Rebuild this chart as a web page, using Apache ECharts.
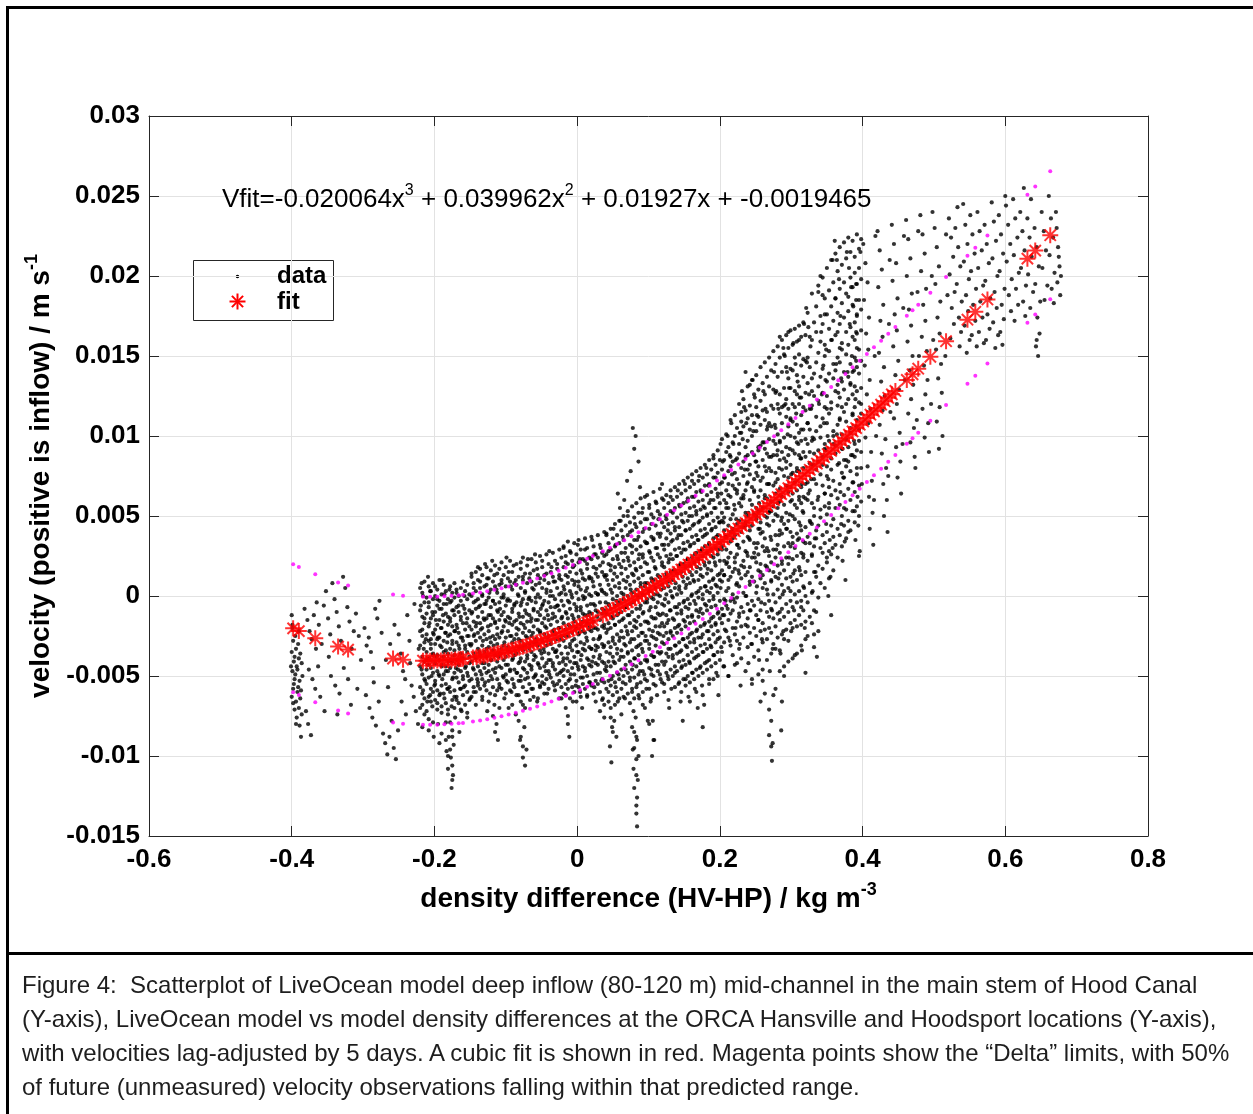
<!DOCTYPE html>
<html>
<head>
<meta charset="utf-8">
<script src="https://cdn.jsdelivr.net/npm/echarts@6/dist/echarts.min.js"></script>
<style>
  html, body { margin:0; padding:0; background:#fff; }
  #wrap { position:relative; width:1253px; height:1114px; overflow:hidden; background:#fff; }
  #chart { position:absolute; left:0; top:0; width:1253px; height:1114px; }
  .bar { position:absolute; background:#000; }
  .lg { position:absolute; left:277px; font-family:'Liberation Sans', Arial, sans-serif; font-weight:bold; font-size:24px; line-height:28px; color:#000; }
  #caption { position:absolute; left:22px; top:968px; width:1230px; white-space:nowrap; font-family:'Liberation Sans', Arial, sans-serif; font-size:24px; line-height:34px; color:#1e1e1e; }
</style>
</head>
<body>
<div id="wrap">
  <div id="chart"></div>
  <div class="lg" style="top:261px;">data</div>
  <div class="lg" style="top:287px;">fit</div>
  <div class="bar" style="left:6px; top:6px; width:1247px; height:3px;"></div>
  <div class="bar" style="left:6px; top:6px; width:3px; height:1108px;"></div>
  <div class="bar" style="left:6px; top:952px; width:1247px; height:3px;"></div>
  <div id="caption">Figure 4:&nbsp; Scatterplot of LiveOcean model deep inflow (80-120 m) mid-channel in the main stem of Hood Canal<br>(Y-axis), LiveOcean model vs model density differences at the ORCA Hansville and Hoodsport locations (Y-axis),<br>with velocities lag-adjusted by 5 days. A cubic fit is shown in red. Magenta points show the “Delta” limits, with 50%<br>of future (unmeasured) velocity observations falling within that predicted range.</div>
</div>
<script>
// ---- tick labels ----
const xTicks = ['-0.6','-0.4','-0.2','0','0.2','0.4','0.6','0.8'];
const yTicks = ['-0.015','-0.01','-0.005','0','0.005','0.01','0.015','0.02','0.025','0.03'];

const dataA = [[-400,-12],[-399,-20],[-398,-28],[-400,-35],[-397,-41],[-399,-47],[-396,-52],[-398,-58],[-400,-63],[-395,-25],[-394,-33],[-396,-38],[-393,-44],[-395,-49],[-397,-55],[-392,-60],[-394,-66],[-396,-71],[-391,-30],[-390,-39],[-392,-46],[-389,-53],[-391,-57],[-388,-64],[-390,-70],[-393,-76],[-389,-81],[-387,-88],[-386,-42],[-388,-36],[-385,-50],[-387,-59],[-399,-18],[-401,-44],[-398,-67],[-394,-80],[-386,-74],[-390,-22]];
const dataB = [[-382,-8],[-378,-15],[-375,-22],[-372,-27],[-369,-12],[-365,-4],[-362,-18],[-376,-46],[-371,-52],[-367,-58],[-363,-44],[-360,-63],[-380,-72],[-377,-80],[-373,-87],[-358,-30],[-355,-6],[-352,3],[-349,-14],[-346,-24],[-343,8],[-340,-2],[-337,-10],[-334,-19],[-331,-28],[-328,12],[-325,5],[-322,-7],[-319,-16],[-316,-33],[-313,-22],[-345,-50],[-339,-56],[-333,-61],[-327,-45],[-321,-52],[-317,-68],[-310,-11],[-306,-25],[-303,-40],[-308,-58],[-354,-72],[-348,-38],[-336,-74],[-366,-33]];
const dataC = [[-298,-20],[-295,-31],[-292,-26],[-289,-35],[-286,-45],[-283,-8],[-280,-14],[-277,-3],[-274,-23],[-296,-62],[-291,-70],[-287,-76],[-282,-81],[-278,-66],[-272,-86],[-269,-92],[-266,-99],[-263,-88],[-260,-78],[-257,-95],[-254,-102],[-251,-84],[-268,-40],[-262,-30],[-256,-18],[-250,-24],[-247,-36],[-244,-47],[-241,-52],[-238,-12],[-235,-28],[-232,-56],[-229,-63],[-226,-72],[-223,-80],[-246,-66],[-240,-74],[-234,-42],[-228,-5],[-222,-33],[-265,-57],[-285,-54]];
const dataD = [[-218,8],[-216,0],[-219,-6],[-214,-14],[-217,-21],[-212,-27],[-215,-33],[-211,-40],[-218,-46],[-213,-53],[-216,-59],[-210,-66],[-214,-74],[-217,-82],
 [-209,12],[-206,3],[-208,-4],[-203,-10],[-207,-17],[-201,-24],[-205,-30],[-202,-37],[-209,-43],[-204,-50],[-200,-56],[-206,-62],[-203,-69],[-208,-77],[-201,-88],
 [-199,6],[-196,-2],[-193,-8],[-198,-15],[-191,-20],[-195,-26],[-192,-31],[-197,-38],[-190,-44],[-194,-49],[-199,-55],[-192,-61],[-196,-67],[-190,-73],[-195,-80],[-193,-92],
 [-189,10],[-186,1],[-183,-5],[-188,-12],[-181,-18],[-185,-23],[-182,-29],[-187,-35],[-180,-41],[-184,-47],[-189,-52],[-182,-58],[-186,-64],[-181,-71],[-184,-79],[-180,-88],[-183,-97],[-181,-108],
 [-179,4],[-176,-3],[-173,-9],[-178,-16],[-171,-22],[-175,-28],[-172,-34],[-177,-40],[-170,-45],[-174,-51],[-179,-57],[-172,-63],[-176,-69],[-171,-76],[-175,-84],[-173,-93],[-177,-101],[-174,-112],[-176,-120],
 [-169,2],[-166,-6],[-163,-13],[-168,-20],[-161,-26],[-165,-33],[-162,-39],[-167,-46],[-160,-52],[-164,-58],[-169,-65],[-162,-72],[-158,-8],[-155,-17],[-152,-25],[-157,-31],[-151,-38],[-156,-44],[-153,-50],[-159,-57],[-150,-64],[-154,-76],[-158,0],[-165,-85]];
const dataE = [[-148,14],[-145,5],[-142,-3],[-147,-10],[-141,-17],[-144,-24],[-149,-31],[-143,-38],[-146,-45],[-140,-52],[-145,-60],[-142,-68],
 [-139,18],[-136,9],[-133,0],[-138,-7],[-131,-14],[-135,-21],[-132,-28],[-137,-35],[-130,-42],[-134,-49],[-139,-56],[-133,-63],
 [-129,20],[-126,11],[-123,2],[-128,-5],[-121,-12],[-125,-19],[-122,-26],[-127,-33],[-120,-40],[-124,-47],[-129,-54],[-122,-61],[-126,-72],
 [-119,22],[-116,13],[-113,4],[-118,-3],[-111,-10],[-115,-17],[-112,-24],[-117,-31],[-110,-38],[-114,-45],[-119,-52],[-112,-59],[-116,-68],[-113,-80],[-111,-90],
 [-109,17],[-106,8],[-103,-1],[-108,-8],[-101,-15],[-105,-22],[-102,-29],[-107,-36],[-100,-43],[-104,-50],[-109,-57],[-102,-64],
 [-99,24],[-96,15],[-93,6],[-98,-3],[-91,-10],[-95,-17],[-92,-25],[-97,-32],[-90,-39],[-94,-46],[-99,-53],[-92,-60],[-96,-70],
 [-89,19],[-86,10],[-83,1],[-88,-6],[-81,-13],[-85,-20],[-82,-27],[-87,-34],[-80,-41],[-84,-48],[-89,-55],[-82,-62],[-86,-74],[-80,-90],
 [-79,21],[-76,12],[-73,3],[-78,-4],[-71,-11],[-75,-18],[-72,-25],[-77,-32],[-70,-39],[-74,-46],[-79,-53],[-72,-60],[-76,-68],[-74,-82],[-71,-96],[-73,-106],
 [-69,23],[-66,14],[-63,5],[-68,-2],[-61,-9],[-65,-16],[-62,-23],[-67,-30],[-60,-37],[-64,-44],[-69,-51],[-62,-58],[-66,-65],
 [-59,26],[-56,17],[-53,8],[-58,-1],[-51,-8],[-55,-15],[-52,-22],[-57,-29],[-50,-36],[-54,-43],[-59,-50],[-52,-57],[-56,-66],
 [-49,22],[-46,13],[-43,4],[-48,-5],[-41,-12],[-45,-19],[-42,-26],[-47,-33],[-40,-40],[-44,-47],[-49,-54],[-42,-61],
 [-39,28],[-36,18],[-33,9],[-38,0],[-31,-7],[-35,-14],[-32,-21],[-37,-28],[-30,-35],[-34,-42],[-39,-49],[-32,-56],[-28,20],[-25,11],[-22,2],[-27,-6],[-21,-13],[-26,-20],[-23,-27],[-29,-34],[-20,-41],[-24,-48],[-28,-55],[-22,-64]];
const dataF = [[-19,30],[-16,21],[-13,12],[-18,4],[-11,-4],[-15,-11],[-12,-18],[-17,-25],[-10,-32],[-14,-39],[-19,-46],[-12,-53],[-16,-62],[-13,-75],[-11,-88],
 [-9,27],[-6,18],[-3,9],[-8,1],[-1,-7],[-5,-14],[-2,-21],[-7,-28],[0,-35],[-4,-42],[-9,-49],[-2,-56],[-6,-66],
 [1,32],[4,23],[7,14],[2,6],[9,-2],[5,-9],[8,-16],[3,-23],[10,-30],[6,-37],[1,-44],[8,-51],[4,-60],[7,-70],
 [11,29],[14,20],[17,11],[12,3],[19,-5],[15,-12],[18,-19],[13,-26],[20,-33],[16,-40],[11,-47],[18,-54],[14,-63],
 [21,35],[24,26],[27,17],[22,9],[29,1],[25,-6],[28,-13],[23,-20],[30,-27],[26,-34],[21,-41],[28,-48],[24,-57],[33,30],[36,21],[39,12],[34,4],[40,-4],[35,-11],[38,-18],[32,-25],[37,-32],[31,-39],[39,-46],[34,-53],[36,-64],[38,-76]];
const dataG = [[41,38],[44,28],[47,19],[42,10],[49,2],[45,-6],[48,-13],[43,-21],[50,-28],[46,-36],[41,-44],[48,-52],[44,-60],[47,-70],[49,-82],[46,-94],[48,-104],
 [51,42],[54,32],[57,23],[52,14],[59,5],[55,-3],[58,-11],[53,-18],[60,-26],[56,-33],[51,-41],[58,-49],[54,-57],[57,-66],[52,-78],[55,-88],[60,55],[57,64],
 [61,47],[64,37],[67,27],[62,18],[69,9],[65,1],[68,-7],[63,-15],[70,-22],[66,-30],[61,-38],[68,-46],[64,-54],[67,-64],[62,-74],[70,72],[66,60],
 [71,50],[74,40],[77,31],[72,22],[79,13],[75,4],[78,-4],[73,-12],[80,-19],[76,-27],[71,-35],[78,-43],[74,-51],[77,-60],[79,-72],[80,-85],[78,-96],[79,-108],[75,78],[80,92],[78,105],
 [81,45],[84,35],[87,26],[82,17],[89,8],[85,0],[88,-8],[83,-16],[90,-23],[86,-31],[81,-39],[88,-47],[84,-55],[87,-64],[82,-76],[84,-90],[83,-102],[85,-115],[84,-126],[83,-136],[84,-144],[82,100],[86,84],[88,68],
 [91,52],[94,42],[97,33],[92,24],[99,15],[95,6],[98,-2],[93,-10],[100,-17],[96,-25],[91,-33],[98,-41],[94,-49],[97,-58],[92,-68],[99,-78],[95,62],
 [101,55],[104,45],[107,36],[102,27],[109,18],[105,9],[108,1],[103,-7],[110,-14],[106,-22],[101,-30],[108,-38],[104,-46],[107,-55],[103,-66],[106,-78],[108,-90],[105,-100],[111,58],[114,48],[117,39],[112,30],[119,21],[115,12],[118,4],[113,-4],[120,-11],[116,-19],[111,-27],[118,-35],[114,-43],[117,-52],[112,-62],[119,70]];
const dataH = [[121,60],[124,50],[127,41],[122,32],[129,23],[125,14],[128,6],[123,-2],[130,-9],[126,-17],[121,-25],[128,-33],[124,-41],[127,-50],[122,-60],[129,-70],
 [131,62],[134,52],[137,43],[132,34],[139,25],[135,16],[138,8],[133,0],[140,-7],[136,-15],[131,-23],[138,-31],[134,-39],[137,-48],[132,-58],
 [141,66],[144,56],[147,47],[142,38],[149,29],[145,20],[148,12],[143,4],[150,-3],[146,-11],[141,-19],[148,-27],[144,-35],[147,-44],[142,-55],[145,-66],[148,-78],
 [151,70],[154,59],[157,50],[152,41],[159,32],[155,23],[158,15],[153,7],[160,0],[156,-8],[151,-16],[158,-24],[154,-32],[157,-41],[152,-52],[156,-63],
 [161,72],[164,62],[167,53],[162,44],[169,35],[165,26],[168,18],[163,10],[170,3],[166,-5],[161,-13],[168,-21],[164,-29],[167,-38],[162,-48],[165,-58],[169,-70],
 [171,75],[174,65],[177,56],[172,47],[179,38],[175,29],[178,21],[173,13],[180,6],[176,-2],[171,-10],[178,-18],[174,-26],[177,-35],[172,-45],[175,-56],[178,-68],[176,-82],
 [181,80],[184,69],[187,60],[182,51],[189,42],[185,33],[188,25],[183,17],[190,10],[186,2],[181,-6],[188,-14],[184,-22],[187,-31],[182,-41],[185,-52],[191,86],[194,74],[197,64],[192,55],[199,46],[195,37],[198,29],[193,21],[200,14],[196,6],[191,-2],[198,-10],[194,-18],[197,-27],[192,-37],[195,-48],[198,-62]];
const dataI = [[201,95],[204,84],[207,74],[202,64],[209,55],[205,46],[208,37],[203,29],[210,21],[206,13],[201,5],[208,-3],[204,-12],[207,-21],[202,-32],[205,-44],[211,100],[214,88],[212,70],[215,40],[213,18],[211,-8],[214,-28],[212,-50],
 [216,108],[219,95],[222,85],[217,76],[224,66],[220,57],[223,48],[218,40],[225,32],[221,24],[226,16],[223,7],[219,-2],[227,-11],[222,-20],[228,-30],[224,-42],[229,-56],[230,115],[228,102],
 [231,128],[234,118],[237,108],[232,98],[239,88],[235,79],[238,70],[233,61],[240,52],[236,44],[241,36],[238,27],[234,18],[242,9],[237,0],[243,-9],[239,-19],[244,-30],[240,-42],[245,-55],[236,140],[242,132],
 [246,135],[249,124],[252,113],[247,103],[254,93],[250,84],[253,75],[248,66],[255,58],[251,50],[256,42],[253,33],[249,24],[257,15],[252,6],[258,-4],[254,-15],[259,-27],[255,-40],[260,-53],[257,-66],
 [261,128],[264,117],[267,106],[262,96],[269,87],[265,78],[268,70],[263,61],[270,53],[266,45],[271,37],[268,28],[264,19],[272,10],[267,1],[273,-9],[269,-20],[274,-33],[270,-47],[275,-62],[272,-78],[274,-92],[273,-103],
 [276,140],[279,128],[282,117],[277,107],[284,97],[280,88],[283,80],[278,71],[285,63],[281,55],[286,47],[283,38],[279,29],[287,20],[282,11],[288,1],[284,-10],[289,-22],[285,-36],[290,-50],[287,-66],[286,-84],[289,155],[284,162],
 [291,150],[294,140],[297,130],[292,120],[299,110],[295,101],[298,92],[293,84],[300,76],[296,68],[301,60],[298,51],[294,42],[302,33],[297,24],[303,14],[299,3],[304,-9],[300,-22],[305,-37],[296,165],[303,158],[306,145],[309,134],[312,124],[307,114],[314,104],[310,95],[313,86],[308,78],[315,70],[311,62],[316,53],[313,44],[309,35],[317,26],[312,16],[318,5],[314,-7],[319,-20],[315,-34],[320,-48],[318,170],[311,160]];
const dataJ = [[321,180],[324,168],[327,156],[322,146],[329,136],[325,126],[328,117],[323,108],[330,99],[326,90],[331,82],[328,73],[324,64],[332,55],[327,46],[333,36],[329,26],[334,15],[330,3],[335,-10],[332,-24],[336,-38],[338,190],[339,120],[337,60],
 [341,200],[344,188],[347,176],[342,165],[349,154],[345,144],[348,135],[343,126],[350,117],[346,108],[351,100],[348,91],[344,82],[352,73],[347,64],[353,55],[349,45],[354,35],[350,24],[355,12],[352,0],[356,-12],[358,210],[357,160],[359,95],[358,30],
 [361,222],[364,210],[367,198],[362,186],[369,175],[365,165],[368,155],[363,145],[370,136],[366,127],[371,118],[368,110],[364,101],[372,92],[367,83],[373,74],[369,65],[374,55],[370,45],[375,34],[372,22],[376,10],[378,215],[379,140],[377,85],[380,40],
 [381,205],[384,193],[387,181],[382,170],[389,160],[385,150],[388,141],[383,132],[390,123],[386,114],[391,106],[388,97],[384,88],[392,80],[387,71],[393,62],[389,53],[394,44],[390,35],[395,25],[391,195],[391,185],[392,175],[391,165],[392,155],[391,147],[397,215],[398,120],[399,70],[396,28]];
const dataK = [[401,220],[404,208],[407,196],[402,185],[409,174],[405,164],[408,154],[403,144],[410,135],[406,126],[411,117],[408,108],[404,99],[412,90],[407,81],[413,72],[409,62],[414,52],[410,42],[415,32],[418,225],[417,150],[419,100],[416,60],
 [421,228],[424,216],[427,204],[422,193],[429,182],[425,172],[428,162],[423,152],[430,143],[426,134],[431,125],[428,116],[424,107],[432,98],[427,89],[433,80],[429,70],[434,60],[430,50],[435,40],[438,210],[437,170],[439,115],[436,75],
 [441,232],[444,220],[447,208],[442,197],[449,186],[445,176],[448,166],[443,156],[450,147],[446,138],[451,129],[448,120],[444,111],[452,102],[447,93],[453,84],[449,74],[454,64],[458,225],[457,180],[459,135],[456,95],
 [461,235],[464,223],[467,211],[462,200],[469,189],[465,179],[468,169],[463,159],[470,150],[466,141],[471,132],[468,123],[464,114],[472,105],[467,96],[473,87],[478,228],[477,190],[479,150],[476,110],[474,80]];
const dataL = [[481,238],[484,226],[487,214],[482,203],[489,192],[485,182],[488,172],[483,162],[490,153],[486,144],[491,135],[488,126],[484,117],[492,108],[487,99],[493,90],[498,240],[497,200],[499,160],[496,120],
 [501,230],[504,218],[507,206],[502,195],[509,184],[505,174],[508,164],[503,154],[510,145],[506,136],[511,127],[508,118],[504,109],[512,100],[507,92],[517,226],[519,188],[516,150],
 [521,236],[524,224],[527,212],[522,201],[529,190],[525,180],[528,170],[523,161],[530,230],[534,218],[537,206],[532,195],[539,184],[535,174],[538,165],[533,243],[536,156],
 [541,245],[544,232],[547,220],[542,209],[549,198],[545,188],[548,178],[543,169],[550,160],[546,152],[551,238],[554,226],[557,214],[552,203],[559,192],[555,182],[558,172],[553,163],[560,156]];
const dataM = [[561,240],[564,228],[567,216],[562,205],[569,194],[565,184],[568,174],[563,165],[570,158],[571,232],[574,220],[577,208],[572,197],[579,186],[575,176],[578,167],[573,160],[581,246],[584,234],[587,222],[582,211],[589,200],[585,190],[588,180],[583,171],[590,163],[586,155],[591,238],[594,226],[597,214],[592,203],[599,192],[595,182],[598,173],[593,165],[600,250],[596,157]];
const dataN = [[601,244],[604,232],[607,220],[602,209],[609,198],[605,188],[608,178],[611,248],[614,236],[617,224],[612,213],[619,202],[615,192],[618,182],[613,172],[621,240],[624,228],[627,216],[622,205],[629,194],[625,184],[628,175],[631,236],[634,224],[637,212],[632,201],[639,190],[635,180],[641,230],[644,218],[647,206],[642,195],[649,184],[645,174],[648,164],[643,156],[646,150],[644,160],[651,240],[654,228],[657,216],[652,205],[659,194],[655,185],[661,250],[664,236],[667,224],[662,213],[669,202],[665,192],[668,183],[672,230],[674,218],[676,206],[673,196],[677,188],[675,212],[678,200],[671,240],[626,255],[636,248]];

// ---- more observed data in the dense part, as vertical streaks: [x x1000, y1 x10000, y2 x10000, ...] ----
const streaksD = [[-220,5,-9,-22,-31,-44,-57,-70],[-217,2,-13,-25,-38,-49,-61,-68],[-214,9,-4,-17,-29,-41,-52,-64],[-211,-1,-11,-24,-35,-46,-55,-72],[-208,6,-7,-19,-28,-39,-51,-63,-84],[-205,3,-14,-27,-33,-45,-58,-66],[-202,8,-2,-12,-23,-36,-48,-60,-79],[-199,0,-10,-21,-30,-42,-53,-65],[-196,4,-6,-18,-27,-37,-47,-59,-71],[-193,10,-3,-15,-26,-40,-50,-62],[-190,1,-8,-20,-32,-43,-56,-69,-86],[-187,7,-5,-16,-28,-38,-49,-61],[-184,3,-11,-23,-34,-44,-55,-67,-90],[-181,-2,-13,-25,-36,-47,-58,-74,-100],[-178,6,-4,-14,-24,-33,-45,-60,-79,-96],[-175,2,-9,-19,-30,-41,-52,-65,-88,-106,-115],[-172,8,-1,-12,-22,-37,-48,-59,-70],[-169,4,-7,-18,-29,-40,-51,-63],[-166,0,-10,-23,-31,-43,-54,-67],[-163,5,-3,-15,-26,-36,-47,-58,-71],[-160,9,-6,-17,-28,-39,-50,-62],[-157,3,-11,-21,-33,-45,-56,-68],[-154,7,-2,-14,-25,-35,-48,-60,-73],[-151,1,-9,-19,-30,-42,-53,-65]];
const streaksE = [[-148,12,0,-11,-21,-30,-41,-52,-63],[-145,8,-4,-16,-25,-36,-46,-57],[-142,15,3,-8,-19,-28,-39,-49,-60],[-139,10,-2,-13,-23,-33,-44,-54],[-136,17,5,-6,-17,-26,-37,-47,-58],[-133,13,1,-10,-20,-31,-42,-52,-65],[-130,6,-5,-15,-24,-35,-45,-56],[-127,18,7,-3,-14,-27,-38,-48,-59],[-124,11,-1,-12,-22,-32,-43,-53,-66],[-121,16,4,-7,-18,-29,-40,-50],[-118,9,-3,-14,-25,-34,-46,-57,-75],[-115,19,6,-5,-16,-27,-37,-48,-62,-85],[-112,14,2,-9,-20,-30,-41,-52],[-109,7,-4,-15,-26,-36,-44,-55,-70],[-106,21,10,-1,-12,-23,-33,-45,-58],[-103,13,1,-10,-19,-31,-40,-51],[-100,18,6,-6,-16,-26,-38,-49,-61],[-97,11,-2,-13,-22,-34,-43,-54],[-94,22,9,-3,-14,-25,-35,-47,-59],[-91,15,4,-8,-18,-29,-40,-52,-68],[-88,8,-5,-16,-27,-37,-46,-57],[-85,20,7,-4,-15,-24,-36,-48,-62],[-82,12,0,-11,-21,-32,-42,-53,-78],[-79,17,5,-6,-17,-28,-39,-50,-66,-88],[-76,24,10,-2,-13,-23,-34,-45,-57,-94,-101],[-73,14,2,-9,-20,-31,-41,-52,-70],[-70,19,8,-5,-16,-26,-37,-48,-60],[-67,11,-1,-12,-22,-33,-43,-55],[-64,23,9,-3,-14,-25,-35,-46,-58],[-61,16,4,-8,-19,-29,-40,-51,-63],[-58,21,7,-4,-15,-27,-38,-49],[-55,13,1,-10,-21,-31,-42,-53,-64],[-52,25,11,-1,-12,-23,-34,-45,-56],[-49,18,5,-6,-17,-28,-39,-50],[-46,10,-3,-14,-24,-35,-44,-55,-61],[-43,26,14,2,-9,-20,-31,-42,-52],[-40,20,8,-4,-15,-25,-36,-47,-58],[-37,15,3,-7,-18,-30,-40,-51],[-34,27,12,0,-11,-22,-33,-44,-54],[-31,22,9,-2,-13,-24,-35,-46,-59],[-28,17,5,-6,-16,-27,-38,-49],[-25,29,13,1,-9,-20,-31,-42,-53,-64],[-22,24,10,-3,-14,-25,-36,-47,-57]];
const streaksF = [[-19,31,18,6,-6,-17,-28,-39,-50,-61],[-16,25,13,1,-10,-21,-32,-43,-55,-70],[-13,34,20,8,-3,-14,-25,-36,-47,-58,-80],[-10,28,15,3,-8,-19,-30,-41,-52,-64],[-7,22,10,-1,-12,-23,-34,-45,-57],[-4,33,19,7,-5,-16,-27,-38,-49,-60],[-1,26,14,2,-9,-20,-31,-42,-53,-66],[2,35,21,9,-2,-13,-24,-35,-46,-57],[5,29,16,4,-7,-18,-29,-40,-51,-63],[8,23,11,0,-11,-22,-33,-44,-55],[11,36,22,10,-1,-12,-23,-34,-45,-58],[14,30,17,5,-6,-17,-28,-39,-50,-62],[17,24,12,1,-10,-21,-32,-43,-54],[20,37,23,11,0,-11,-22,-33,-44,-56],[23,31,18,6,-5,-16,-27,-38,-49,-61],[26,26,14,2,-9,-20,-31,-42,-53,-66],[29,38,24,12,1,-10,-21,-32,-43,-55],[32,32,19,7,-4,-15,-26,-37,-48,-60,-72],[35,27,15,3,-8,-19,-30,-41,-52,-65],[38,40,25,13,2,-9,-20,-31,-42,-54,-68]];
const streaksG = [[41,39,26,13,1,-11,-23,-35,-47,-58],[44,33,20,7,-5,-17,-29,-41,-53,-66],[47,42,29,16,4,-8,-20,-32,-44,-56,-76],[50,36,23,10,-2,-14,-26,-38,-50,-62,-85],[53,45,31,18,6,-6,-18,-30,-42,-54,-68],[56,38,25,12,0,-12,-24,-36,-48,-60],[59,47,33,20,8,-4,-16,-28,-40,-52,-64],[62,41,27,14,2,-10,-22,-34,-46,-58],[65,50,35,22,10,-2,-14,-26,-38,-50,-63],[68,44,30,17,5,-7,-19,-31,-43,-55],[71,53,38,24,12,0,-12,-24,-36,-48,-61],[74,46,32,19,7,-5,-17,-29,-41,-53,-67],[77,56,41,27,14,2,-10,-22,-34,-46,-58,-82],[80,49,35,21,9,-3,-15,-27,-39,-51,-64,-95,-120],[83,58,43,29,16,4,-8,-20,-32,-44,-57,-88,-112,-131],[86,52,37,23,11,-1,-13,-25,-37,-49,-62,-100],[89,61,46,31,18,6,-6,-18,-30,-42,-54],[92,55,40,26,13,1,-11,-23,-35,-47,-60],[95,48,34,21,8,-4,-16,-28,-40,-52,-70],[98,63,48,33,20,8,-4,-16,-28,-40,-53],[101,57,42,28,15,3,-9,-21,-33,-45,-58,-80],[104,51,37,24,11,-1,-13,-25,-37,-49,-64],[107,65,49,35,22,10,-2,-14,-26,-38,-50,-90],[110,59,44,30,17,5,-7,-19,-31,-43,-56],[113,53,39,26,13,1,-11,-23,-35,-47],[116,67,51,37,24,12,0,-12,-24,-36,-49],[119,61,46,32,19,7,-5,-17,-29,-41,-54]];
const streaksH = [[122,55,43,29,18,5,-6,-19,-30,-43,-55],[125,63,48,36,25,12,1,-12,-23,-36,-48],[128,58,45,32,21,9,-4,-15,-27,-38,-52,-65],[131,66,53,39,26,15,3,-9,-22,-33,-46],[134,60,46,35,23,10,-1,-14,-25,-37,-50],[137,68,55,41,29,16,5,-7,-20,-31,-44,-57],[140,62,49,36,25,14,1,-11,-23,-36,-47],[143,70,57,43,30,19,6,-5,-18,-29,-41,-54],[146,64,51,38,27,15,2,-9,-21,-34,-45,-60],[149,72,58,46,33,20,9,-4,-15,-27,-40,-52],[152,66,52,41,29,18,5,-7,-19,-31,-43,-56],[155,74,61,47,34,23,11,-2,-13,-26,-37,-50],[158,68,55,42,31,19,8,-5,-17,-29,-42,-54,-66],[161,76,62,50,37,24,13,1,-12,-23,-35,-48],[164,70,56,45,33,21,9,-3,-16,-27,-39,-52],[167,78,65,51,38,27,15,2,-9,-22,-33,-46,-60],[170,72,59,46,35,23,10,-1,-13,-26,-37,-50],[173,80,66,54,41,28,17,5,-8,-19,-31,-44],[176,74,60,49,37,25,12,1,-11,-24,-35,-48,-62],[179,82,69,55,42,31,19,6,-5,-17,-30,-42],[182,76,63,50,39,27,14,3,-9,-22,-33,-46],[185,85,70,58,45,32,21,9,-3,-16,-27,-40,-55],[188,79,65,52,41,29,16,5,-7,-19,-32,-44],[191,88,74,60,47,36,24,11,0,-13,-24,-37,-52],[194,82,67,55,43,30,19,7,-6,-17,-29,-42],[197,91,77,62,49,38,26,13,2,-11,-22,-35,-50],[200,85,70,58,46,33,22,10,-3,-14,-26,-40]];
const streaksI = [[203,98,79,71,52,47,31,16,9,-8,-17,-35],[206,85,74,60,49,41,22,13,-2,-12,-29,-44],[209,101,90,66,58,37,29,20,3,-6,-22],[212,93,78,63,55,44,24,10,5,-15,-26,-50],[215,110,87,81,62,48,34,27,12,-3,-11,-31],[218,96,84,69,51,42,36,15,1,-9,-20,-37],[221,113,100,77,67,54,38,21,17,-4,-24,-43],[224,105,86,73,64,45,32,26,8,-1,-16,-28],[227,120,95,89,70,58,47,30,14,6,-13,-33],[230,109,102,80,61,56,40,19,11,-7,-19,-39],[233,123,106,84,75,63,43,34,22,2,-10,-26],[236,116,93,87,66,52,46,28,13,0,-18,-47],[239,131,111,97,79,71,50,37,25,15,-5,-14,-32],[242,119,104,82,76,60,41,35,18,7,-9,-23],[245,135,113,100,90,68,57,44,24,12,-3,-30,-52],[248,126,108,88,73,65,51,33,27,9,-6,-20,-38],[251,138,118,103,84,77,55,48,30,21,2,-12,-25],[254,129,112,91,81,62,53,42,26,16,-2,-15,-34,-49],[257,143,122,107,94,72,66,46,39,20,11,-9,-22],[260,133,116,96,85,74,55,40,31,13,5,-17,-29,-46],[263,146,126,110,92,81,63,50,36,28,8,-5,-21,-61],[266,137,115,104,89,70,61,49,30,18,4,-10,-27,-40],[269,149,131,108,98,80,70,52,44,25,16,-3,-13,-71,-87],[272,141,119,106,87,78,59,53,35,21,9,-8,-23,-36,-94],[275,153,129,117,97,88,69,56,47,29,15,1,-14,-30],[278,145,127,105,95,77,64,51,38,24,12,-4,-19,-33,-58],[281,156,137,120,101,91,73,58,50,32,19,4,-11,-26],[284,149,126,114,96,85,67,59,41,27,14,-1,-15,-34,-47],[287,160,140,118,108,90,79,62,49,39,22,7,-8,-24],[290,151,130,119,99,86,75,57,45,31,16,3,-13,-27,-44],[293,163,143,123,112,93,80,69,52,42,24,11,-5,-21],[296,155,136,117,106,88,74,65,47,33,20,5,-10,-28,-41],[299,166,142,130,111,100,82,68,59,40,31,12,-3,-17],[302,157,141,120,109,91,77,64,50,37,23,9,-7,-20,-39],[305,167,149,128,118,99,89,71,57,48,30,16,1,-15],[308,159,138,126,107,96,80,66,55,39,25,10,-4,-19,-36],[311,169,151,131,120,102,88,78,60,46,36,18,3,-12],[314,162,144,124,113,97,86,68,58,41,27,13,-3,-18,-31],[317,171,148,137,118,104,90,80,62,52,34,24,6,-9],[320,163,147,127,116,98,87,70,61,43,33,15,0,-16,-27]];
const streaksJ = [[323,177,149,133,108,95,71,60,37,22,-4,-25],[326,162,143,117,104,83,66,47,33,8,-13],[329,189,160,128,119,97,82,58,45,25,2,-17],[332,171,139,125,98,89,73,50,31,15,-9,-32],[335,181,165,146,112,103,79,70,41,36,12],[338,194,152,131,122,91,84,62,44,19,-1,-22],[341,175,159,137,106,99,76,54,49,30,8],[344,199,170,142,127,111,87,69,38,27,17],[347,186,157,150,118,95,92,64,56,33,5],[350,205,176,134,125,108,81,75,51,40,21],[353,191,167,153,139,114,97,68,58,28,11],[356,210,181,160,121,117,86,79,63,44,26],[359,196,172,145,136,103,100,72,48,37,16],[362,214,186,163,141,128,94,89,66,55,32],[365,203,177,149,132,119,107,82,61,42,24],[368,218,192,170,146,124,111,96,70,57,38],[371,207,183,158,154,134,101,92,77,50,31],[374,221,196,174,140,129,115,85,74,63,44],[377,211,189,165,151,120,109,98,81,54,36],[380,224,187,178,157,137,123,93,84,67,47],[383,215,199,168,145,133,105,102,78,60,41],[386,222,193,182,162,140,126,113,88,71,53],[389,212,202,171,149,131,118,95,87,65,46],[392,226,195,176,164,143,128,110,91,76,56],[395,217,205,185,154,139,121,104,97,69,50],[398,223,198,179,166,147,130,114,90,80,59]];

// ---- cubic fit points (kg m^-3, m s^-1) ----
const fitX = [-0.398,-0.390,-0.367,-0.335,-0.321,-0.258,-0.244,-0.216,-0.206,-0.196,-0.186,-0.176,-0.166,-0.160,-0.146,-0.136,-0.126,-0.116,-0.106,-0.096,-0.086,-0.076,-0.066,-0.056,-0.046,-0.036,-0.026,-0.016,-0.006,0.004,0.014,0.022,0.036,0.046,0.056,0.066,0.076,0.086,0.096,0.106,0.116,0.126,0.136,0.146,0.156,0.166,0.176,0.186,0.196,0.206,0.216,0.226,0.236,0.246,0.256,0.266,0.276,0.286,0.296,0.306,0.316,0.326,0.336,0.346,0.356,0.366,0.376,0.386,0.396,0.406,0.416,0.426,0.436,0.446,0.462,0.470,0.478,0.495,0.517,0.547,0.558,0.575,0.631,0.642,0.663];
const fitY = [-0.002021,-0.002193,-0.002644,-0.003163,-0.003351,-0.003914,-0.003978,-0.004042,-0.004045,-0.004037,-0.004019,-0.003991,-0.003952,-0.003925,-0.003846,-0.003778,-0.003700,-0.003613,-0.003516,-0.003410,-0.003295,-0.003171,-0.003038,-0.002897,-0.002746,-0.002588,-0.002420,-0.002245,-0.002061,-0.001869,-0.001669,-0.001504,-0.001202,-0.000978,-0.000746,-0.000506,-0.000260,-0.000007,0.000254,0.000521,0.000795,0.001076,0.001363,0.001656,0.001956,0.002262,0.002574,0.002891,0.003215,0.003544,0.003878,0.004218,0.004563,0.004914,0.005269,0.005629,0.005994,0.006364,0.006738,0.007117,0.007500,0.007887,0.008279,0.008674,0.009073,0.009476,0.009882,0.010292,0.010705,0.011122,0.011541,0.011964,0.012389,0.012817,0.013507,0.013855,0.014204,0.014950,0.015925,0.017267,0.017763,0.018532,0.021083,0.021587,0.022548];
// further fit stars where the observations are dense
const fitXMid = [-0.211,-0.201,-0.191,-0.181,-0.171,-0.163,-0.141,-0.131,-0.121,-0.111,-0.101,-0.091,-0.081,-0.071,-0.061,-0.051,-0.041,-0.031,-0.021,-0.011,-0.001,0.009,0.018,0.041,0.051,0.061,0.071,0.081,0.091,0.101,0.111,0.121,0.131,0.141,0.151,0.161,0.171,0.181,0.191,0.201,0.211,0.221,0.231,0.241,0.251,0.261,0.271,0.281,0.291,0.301,0.311,0.321,0.331,0.341,0.351,0.361,0.371,0.381,0.391,0.401,0.411,0.421,0.431,0.441];
const fitYMid = [-0.004045,-0.004042,-0.004029,-0.004006,-0.003973,-0.003939,-0.003813,-0.003740,-0.003658,-0.003566,-0.003464,-0.003354,-0.003234,-0.003106,-0.002969,-0.002823,-0.002668,-0.002505,-0.002334,-0.002154,-0.001966,-0.001770,-0.001587,-0.001091,-0.000863,-0.000627,-0.000384,-0.000135,0.000122,0.000386,0.000657,0.000934,0.001218,0.001508,0.001805,0.002108,0.002417,0.002731,0.003052,0.003378,0.003710,0.004047,0.004389,0.004737,0.005090,0.005448,0.005810,0.006178,0.006550,0.006926,0.007307,0.007692,0.008082,0.008475,0.008872,0.009273,0.009678,0.010086,0.010497,0.010912,0.011330,0.011751,0.012175,0.012602];
// ---- "Delta" 50% prediction limits at the fit x ----
const deltaUp = [0.00198,0.00181,0.00136,0.00084,0.00065,0.00009,0.00002,-0.00004,-0.00005,-0.00004,-0.00002,0.00001,0.00005,0.00008,0.00015,0.00022,0.00030,0.00039,0.00048,0.00059,0.00071,0.00083,0.00096,0.00110,0.00125,0.00141,0.00158,0.00176,0.00194,0.00213,0.00233,0.00250,0.00280,0.00302,0.00325,0.00349,0.00374,0.00399,0.00425,0.00452,0.00480,0.00508,0.00536,0.00566,0.00596,0.00626,0.00657,0.00689,0.00722,0.00754,0.00788,0.00822,0.00856,0.00891,0.00927,0.00963,0.00999,0.01036,0.01074,0.01112,0.01150,0.01189,0.01228,0.01267,0.01307,0.01348,0.01388,0.01429,0.01471,0.01512,0.01554,0.01596,0.01639,0.01682,0.01751,0.01786,0.01820,0.01895,0.01993,0.02127,0.02176,0.02253,0.02508,0.02559,0.02655];
const deltaLo = [-0.00602,-0.00619,-0.00664,-0.00716,-0.00735,-0.00791,-0.00798,-0.00804,-0.00805,-0.00804,-0.00802,-0.00799,-0.00795,-0.00793,-0.00785,-0.00778,-0.00770,-0.00761,-0.00752,-0.00741,-0.00730,-0.00717,-0.00704,-0.00690,-0.00675,-0.00659,-0.00642,-0.00625,-0.00606,-0.00587,-0.00567,-0.00550,-0.00520,-0.00498,-0.00475,-0.00451,-0.00426,-0.00401,-0.00375,-0.00348,-0.00320,-0.00292,-0.00264,-0.00234,-0.00204,-0.00174,-0.00143,-0.00111,-0.00079,-0.00046,-0.00012,0.00022,0.00056,0.00091,0.00127,0.00163,0.00199,0.00236,0.00274,0.00312,0.00350,0.00389,0.00428,0.00467,0.00507,0.00548,0.00588,0.00629,0.00671,0.00712,0.00754,0.00796,0.00839,0.00882,0.00951,0.00986,0.01020,0.01095,0.01193,0.01327,0.01376,0.01453,0.01708,0.01759,0.01855];

// ---- build series data ----
const rawObs = [].concat(dataA,dataB,dataC,dataD,dataE,dataF,dataG,dataH,dataI,dataJ,dataK,dataL,dataM,dataN);
const streaks = [].concat(streaksD,streaksE,streaksF,streaksG,streaksH,streaksI,streaksJ);
const obs = rawObs.map(p => [p[0] / 1000, p[1] / 10000]);
streaks.forEach(s => { for (let k = 1; k < s.length; k++) obs.push([s[0] / 1000, s[k] / 10000]); });
const fitPts = fitX.map((x, i) => [x, fitY[i]]).concat(fitXMid.map((x, i) => [x, fitYMid[i]]));
const upPts = fitX.map((x, i) => [x, deltaUp[i]]);
const loPts = fitX.map((x, i) => [x, deltaLo[i]]);

const FONT = "'Liberation Sans', Arial, Helvetica, sans-serif";
const STAR = 'path://M10,0L10,20M0,10L20,10M2.93,2.93L17.07,17.07M2.93,17.07L17.07,2.93';
const AXC = '#262626';
const GRIDC = '#e2e2e2';

const chart = echarts.init(document.getElementById('chart'), null, { renderer: 'canvas' });

const frameAxis = (extra) => Object.assign({
  type: 'value',
  axisLine: { show: true, onZero: false, lineStyle: { color: AXC, width: 1 } },
  axisTick: { show: true, inside: true, length: 10, lineStyle: { color: AXC, width: 1 } },
  axisLabel: { show: false },
  splitLine: { show: false }
}, extra);

const nameRich = {
  a: { fontSize: 28, fontWeight: 'bold', fontFamily: FONT, color: '#000' },
  s: { fontSize: 18, fontWeight: 'bold', fontFamily: FONT, color: '#000', padding: [0, 0, 18, 0] }
};

chart.setOption({
  animation: false,
  backgroundColor: 'transparent',
  grid: { left: 149, top: 116, width: 999, height: 720, containLabel: false },
  xAxis: [
    frameAxis({
      min: -0.6, max: 0.8, interval: 0.2, position: 'bottom',
      splitLine: { show: true, lineStyle: { color: GRIDC, width: 1 } },
      axisLabel: { show: true, margin: 11, color: '#000', fontSize: 26, fontWeight: 'bold', fontFamily: FONT,
        showMinLabel: true, showMaxLabel: true, formatter: (v, i) => xTicks[i] },
      name: '{a|density difference (HV-HP) / kg m}{s|-3}',
      nameLocation: 'middle', nameGap: 45,
      nameTextStyle: { rich: nameRich }
    }),
    frameAxis({ min: -0.6, max: 0.8, interval: 0.2, position: 'top' })
  ],
  yAxis: [
    frameAxis({
      min: -0.015, max: 0.03, interval: 0.005, position: 'left',
      splitLine: { show: true, lineStyle: { color: GRIDC, width: 1 } },
      axisLabel: { show: true, margin: 9, color: '#000', fontSize: 26, fontWeight: 'bold', fontFamily: FONT,
        showMinLabel: true, showMaxLabel: true, formatter: (v, i) => yTicks[i] },
      name: '{a|velocity (positive is inflow) / m s}{s|-1}',
      nameLocation: 'middle', nameGap: 83, nameRotate: 90,
      nameTextStyle: { rich: nameRich }
    }),
    frameAxis({ min: -0.015, max: 0.03, interval: 0.005, position: 'right' })
  ],
  series: [
    { name: 'data', type: 'scatter', data: obs, symbol: 'circle', symbolSize: 4.2, large: false,
      itemStyle: { color: '#000' }, z: 2, silent: true },
    { name: 'delta upper', type: 'scatter', data: upPts, symbol: 'circle', symbolSize: 4,
      itemStyle: { color: '#ff00ff' }, z: 3, silent: true },
    { name: 'delta lower', type: 'scatter', data: loPts, symbol: 'circle', symbolSize: 4,
      itemStyle: { color: '#ff00ff' }, z: 3, silent: true },
    { name: 'fit', type: 'scatter', data: fitPts, symbol: STAR, symbolSize: 16,
      itemStyle: { color: 'rgba(0,0,0,0)', borderColor: '#ff0000', borderWidth: 2 }, z: 4, silent: true }
  ],
  graphic: [
    { type: 'text', left: 222, top: 183, z: 10,
      style: {
        text: '{a|Vfit=-0.020064x}{s|3}{a| + 0.039962x}{s|2}{a| + 0.01927x + -0.0019465}',
        rich: {
          a: { fontSize: 26, fontFamily: FONT, fill: '#000' },
          s: { fontSize: 16, fontFamily: FONT, fill: '#000', padding: [0, 0, 18, 0] }
        }
      } },
    { type: 'group', left: 193, top: 260, zlevel: 2, z: 100, children: [
      { type: 'rect', shape: { x: 0, y: 0, width: 140, height: 60 }, style: { fill: '#fff', stroke: AXC, lineWidth: 1 } },
      { type: 'circle', shape: { cx: 44, cy: 16, r: 1.8 }, style: { fill: '#000' } },
      { type: 'line', shape: { x1: 44, y1: 33, x2: 44, y2: 49 }, style: { stroke: '#ff0000', lineWidth: 2 } },
      { type: 'line', shape: { x1: 36, y1: 41, x2: 52, y2: 41 }, style: { stroke: '#ff0000', lineWidth: 2 } },
      { type: 'line', shape: { x1: 38.4, y1: 35.4, x2: 49.6, y2: 46.6 }, style: { stroke: '#ff0000', lineWidth: 2 } },
      { type: 'line', shape: { x1: 38.4, y1: 46.6, x2: 49.6, y2: 35.4 }, style: { stroke: '#ff0000', lineWidth: 2 } }
    ] }
  ]
});
</script>
</body>
</html>
